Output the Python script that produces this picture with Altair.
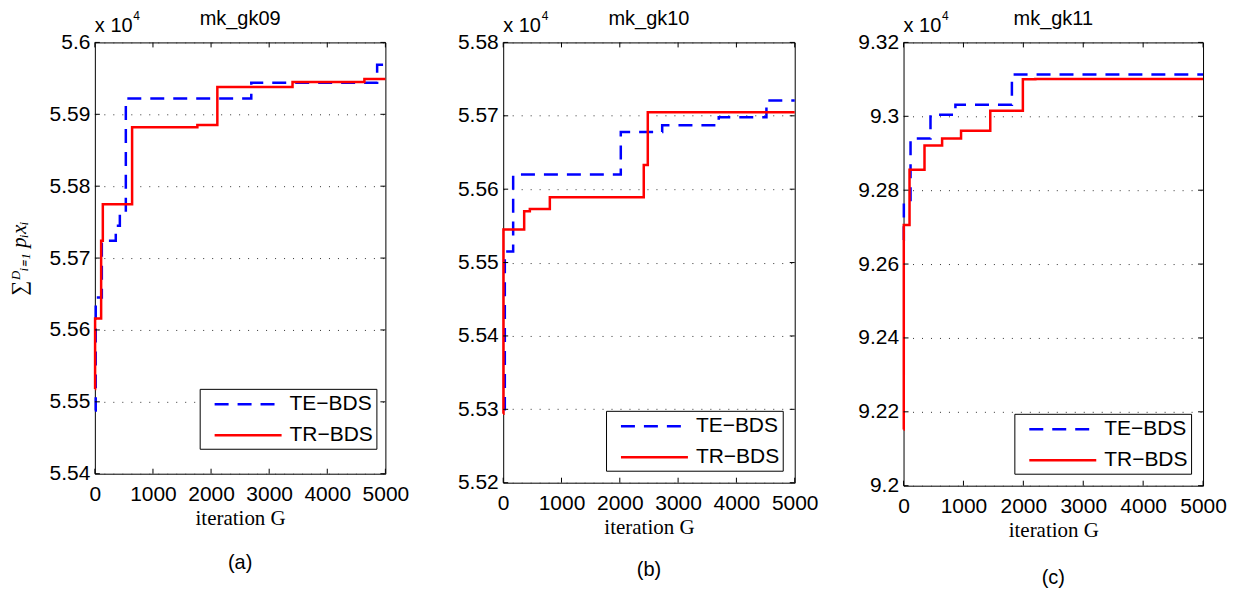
import altair as alt
import pandas as pd

# ---------------- data ----------------
SERIES = ["TE\u2212BDS", "TR\u2212BDS"]
XTICKS = [0, 1000, 2000, 3000, 4000, 5000]

# panel (a) mk_gk09  (values in units of 1e4)
A_TE_X = [0, 15, 120, 360, 430, 533, 2692, 4858, 5000]
A_TE_Y = [5.5488, 5.5645, 5.5724, 5.5745, 5.5762, 5.5922, 5.5944, 5.5969, 5.5969]
A_TR_X = [0, 4, 108, 137, 641, 1764, 2108, 3402, 4639, 5000]
A_TR_Y = [5.5518, 5.5616, 5.5724, 5.5775, 5.5882, 5.5885, 5.5938, 5.5945, 5.5949, 5.5949]
A_YTICKS = [5.54, 5.55, 5.56, 5.57, 5.58, 5.59, 5.6]

# panel (b) mk_gk10
B_TE_X = [0, 28, 171, 2017, 2727, 3697, 4515, 5000]
B_TE_Y = [5.5300, 5.5515, 5.5620, 5.5678, 5.5687, 5.5698, 5.5721, 5.5721]
B_TR_X = [0, 4, 360, 457, 800, 2411, 2480, 5000]
B_TR_Y = [5.5294, 5.5545, 5.5570, 5.5573, 5.5589, 5.5633, 5.5705, 5.5705]
B_YTICKS = [5.52, 5.53, 5.54, 5.55, 5.56, 5.57, 5.58]

# panel (c) mk_gk11
C_TE_X = [0, 5, 117, 450, 866, 1809, 5000]
C_TE_Y = [9.2665, 9.2765, 9.2940, 9.3004, 9.3031, 9.3113, 9.3113]
C_TR_X = [0, 4, 100, 350, 644, 960, 1448, 1992, 2200, 5000]
C_TR_Y = [9.2152, 9.2706, 9.2855, 9.2921, 9.2940, 9.2961, 9.3015, 9.3100, 9.3101, 9.3101]
C_YTICKS = [9.2, 9.22, 9.24, 9.26, 9.28, 9.3, 9.32]

TITLES = ["mk_gk09", "mk_gk10", "mk_gk11"]
TAGS = ["(a)", "(b)", "(c)"]
SCALE_TXT = ["x 10"]
SCALE_EXP = ["4"]
X_TITLE = "iteration G"
Y_TITLE = "\u2211\u1d30\u1d62\u208c\u2081 p\u1d62x\u1d62"

SANS = "Liberation Sans"
SERIF = "Liberation Serif"


def panel(title, tag, te_x, te_y, tr_x, tr_y, yticks, w, h, leg_x, leg_y,
          ytitle=None, yext=48, tag_dy=89):
    df = pd.DataFrame({
        "it": te_x + tr_x,
        "val": te_y + tr_y,
        "s": [SERIES[0]] * len(te_x) + [SERIES[1]] * len(tr_x),
    })
    xs = alt.Scale(domain=[XTICKS[0], XTICKS[-1]], nice=False)
    ys = alt.Scale(domain=[yticks[0], yticks[-1]], nice=False, zero=False)

    yaxis_kw = dict(values=yticks, format="~g", labelFont=SANS, labelFontSize=21,
                    labelColor="black", labelPadding=5, ticks=False, domain=False,
                    grid=True, gridDash=[1, 8], gridColor="#333", gridWidth=1,
                    minExtent=yext, maxExtent=yext)
    if ytitle:
        yaxis = alt.Axis(title=ytitle, titleFont=SERIF, titleFontSize=21,
                         titleFontStyle="italic", titleFontWeight="normal",
                         titleColor="black", titlePadding=17, **yaxis_kw)
    else:
        yaxis = alt.Axis(title=None, **yaxis_kw)
    xaxis = alt.Axis(values=XTICKS, format="d", labelFont=SANS, labelFontSize=21,
                     labelColor="black", labelPadding=10, ticks=False, domain=False,
                     grid=False, labelFlush=False, labelOverlap=False,
                     title=X_TITLE, titleFont=SERIF, titleFontSize=21,
                     titleFontWeight="normal", titleColor="black", titlePadding=3)

    leg = alt.Legend(title=None, orient="none", legendX=leg_x, legendY=leg_y,
                     symbolType="M-3,0H3", symbolSize=500, symbolStrokeWidth=2.5,
                     symbolOffset=33, labelOffset=29, labelFont=SANS, labelFontSize=21,
                     labelColor="black", strokeColor="black", fillColor="white",
                     padding=3, rowPadding=8, cornerRadius=0)

    lines = alt.Chart(df).mark_line(strokeWidth=2.5, interpolate="step-after").encode(
        x=alt.X("it:Q", scale=xs, axis=xaxis),
        y=alt.Y("val:Q", scale=ys, axis=yaxis),
        color=alt.Color("s:N", scale=alt.Scale(domain=SERIES, range=["#0000ff", "#ff0000"]),
                        legend=leg),
        strokeDash=alt.StrokeDash("s:N", scale=alt.Scale(domain=SERIES, range=[[14, 9], [1, 0]]),
                                  legend=leg),
    )

    xt = pd.DataFrame({"it": XTICKS})
    yt = pd.DataFrame({"val": yticks})
    tick_top = alt.Chart(xt).mark_rule(color="black", strokeWidth=1).encode(
        x=alt.X("it:Q", scale=xs, axis=xaxis), y=alt.value(0), y2=alt.value(5))
    tick_bot = alt.Chart(xt).mark_rule(color="black", strokeWidth=1).encode(
        x=alt.X("it:Q", scale=xs, axis=xaxis), y=alt.value(h), y2=alt.value(h - 5))
    tick_l = alt.Chart(yt).mark_rule(color="black", strokeWidth=1).encode(
        y=alt.Y("val:Q", scale=ys, axis=yaxis), x=alt.value(0), x2=alt.value(5))
    tick_r = alt.Chart(yt).mark_rule(color="black", strokeWidth=1).encode(
        y=alt.Y("val:Q", scale=ys, axis=yaxis), x=alt.value(w), x2=alt.value(w - 5))

    ttl = alt.Chart(pd.DataFrame({"t": [title]})).mark_text(
        font=SANS, fontSize=20, align="center", baseline="alphabetic", color="black").encode(
        text="t:N", x=alt.value(w / 2), y=alt.value(-17))
    sc1 = alt.Chart(pd.DataFrame({"t": SCALE_TXT})).mark_text(
        font=SANS, fontSize=20, align="left", baseline="alphabetic", color="black").encode(
        text="t:N", x=alt.value(0), y=alt.value(-10.5))
    sc2 = alt.Chart(pd.DataFrame({"t": SCALE_EXP})).mark_text(
        font=SANS, fontSize=12, align="left", baseline="alphabetic", color="black").encode(
        text="t:N", x=alt.value(38.5), y=alt.value(-22))
    tg = alt.Chart(pd.DataFrame({"t": [tag]})).mark_text(
        font=SANS, fontSize=20, align="center", baseline="middle", color="black").encode(
        text="t:N", x=alt.value(w / 2), y=alt.value(h + tag_dy))

    return alt.layer(lines, tick_top, tick_bot, tick_l, tick_r, ttl, sc1, sc2, tg).properties(
        width=w, height=h,
    )


pa = panel(TITLES[0], TAGS[0], A_TE_X, A_TE_Y, A_TR_X, A_TR_Y, A_YTICKS, 291, 432,
           105, 347, ytitle=Y_TITLE, yext=48, tag_dy=89)
pb = panel(TITLES[1], TAGS[1], B_TE_X, B_TE_Y, B_TR_X, B_TR_Y, B_YTICKS, 292, 441,
           103, 369, yext=55, tag_dy=87)
pc = panel(TITLES[2], TAGS[2], C_TE_X, C_TE_Y, C_TR_X, C_TR_Y, C_YTICKS, 300, 444,
           111, 372, yext=44, tag_dy=92)

chart = alt.hconcat(pa, pb, pc, spacing=38).resolve_scale(
    x="independent", y="independent", color="independent", strokeDash="independent"
).resolve_legend(color="independent", strokeDash="independent").configure_view(
    stroke="black", strokeWidth=1
).properties(
    padding={"left": 0, "top": 0, "right": 5, "bottom": 0},
    background="white",
)

chart.save("out.html", embed_options={"renderer": "svg", "actions": False})
